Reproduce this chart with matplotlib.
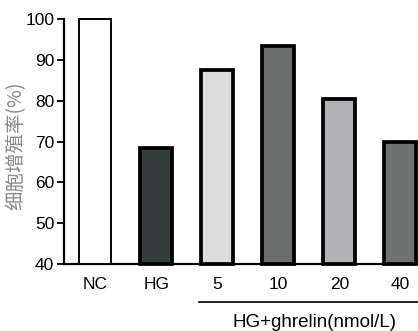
import matplotlib
matplotlib.use("Agg")
import matplotlib.pyplot as plt

categories = ["NC", "HG", "5", "10", "20", "40"]
values = [100, 68.3, 87.6, 93.3, 80.5, 69.8]
colors = ["#ffffff", "#343d3b", "#dcdcdc", "#6b6e6d", "#b2b1b6", "#6f7371"]
edge_widths = [1.4, 2.7, 2.7, 2.7, 2.7, 2.7]
yticks = [40, 50, 60, 70, 80, 90, 100]
ylabel = "细胞增殖率(%)"
group_label = "HG+ghrelin(nmol/L)"

plt.rcParams['font.family'] = ['Liberation Sans', 'DejaVu Sans']

fig = plt.figure(figsize=(4.18, 3.31), dpi=100)
ax = fig.add_axes([0.153, 0.2024, 0.847, 0.7402])

x = list(range(len(categories)))
for xi, v, c, lw in zip(x, values, colors, edge_widths):
    ax.bar(xi, v - 40, bottom=40, width=0.52, color=c, edgecolor="black",
           linewidth=lw, clip_on=False, zorder=3)

ax.set_xlim(-0.51, 5.29)
ax.set_ylim(40, 100)
ax.set_yticks(yticks)
ax.set_yticklabels([str(t) for t in yticks], fontsize=12.5)
ax.set_xticks(x)
ax.set_xticklabels(categories, fontsize=12.5)
ax.tick_params(axis='x', length=0, pad=9)
ax.tick_params(axis='y', direction='out', length=5, width=1.3, pad=2)
for s in ['top', 'right']:
    ax.spines[s].set_visible(False)
ax.spines['left'].set_linewidth(1.6)
ax.spines['bottom'].set_linewidth(1.6)

fig.text(16 / 418, 1 - 146 / 331, ylabel, rotation=90, ha='center', va='center',
         family=['Noto Sans CJK SC', 'DejaVu Sans'], fontsize=14, color="#8a8a8a")

# group line and label under dose categories
line_y = -0.155
ax.plot([1.7, 5.29], [line_y, line_y], transform=ax.get_xaxis_transform(),
        color="black", linewidth=1.2, clip_on=False)
ax.text(3.6, -0.24, group_label, transform=ax.get_xaxis_transform(),
        ha='center', va='center', fontsize=13.5)

fig.savefig("out.png", dpi=100)
